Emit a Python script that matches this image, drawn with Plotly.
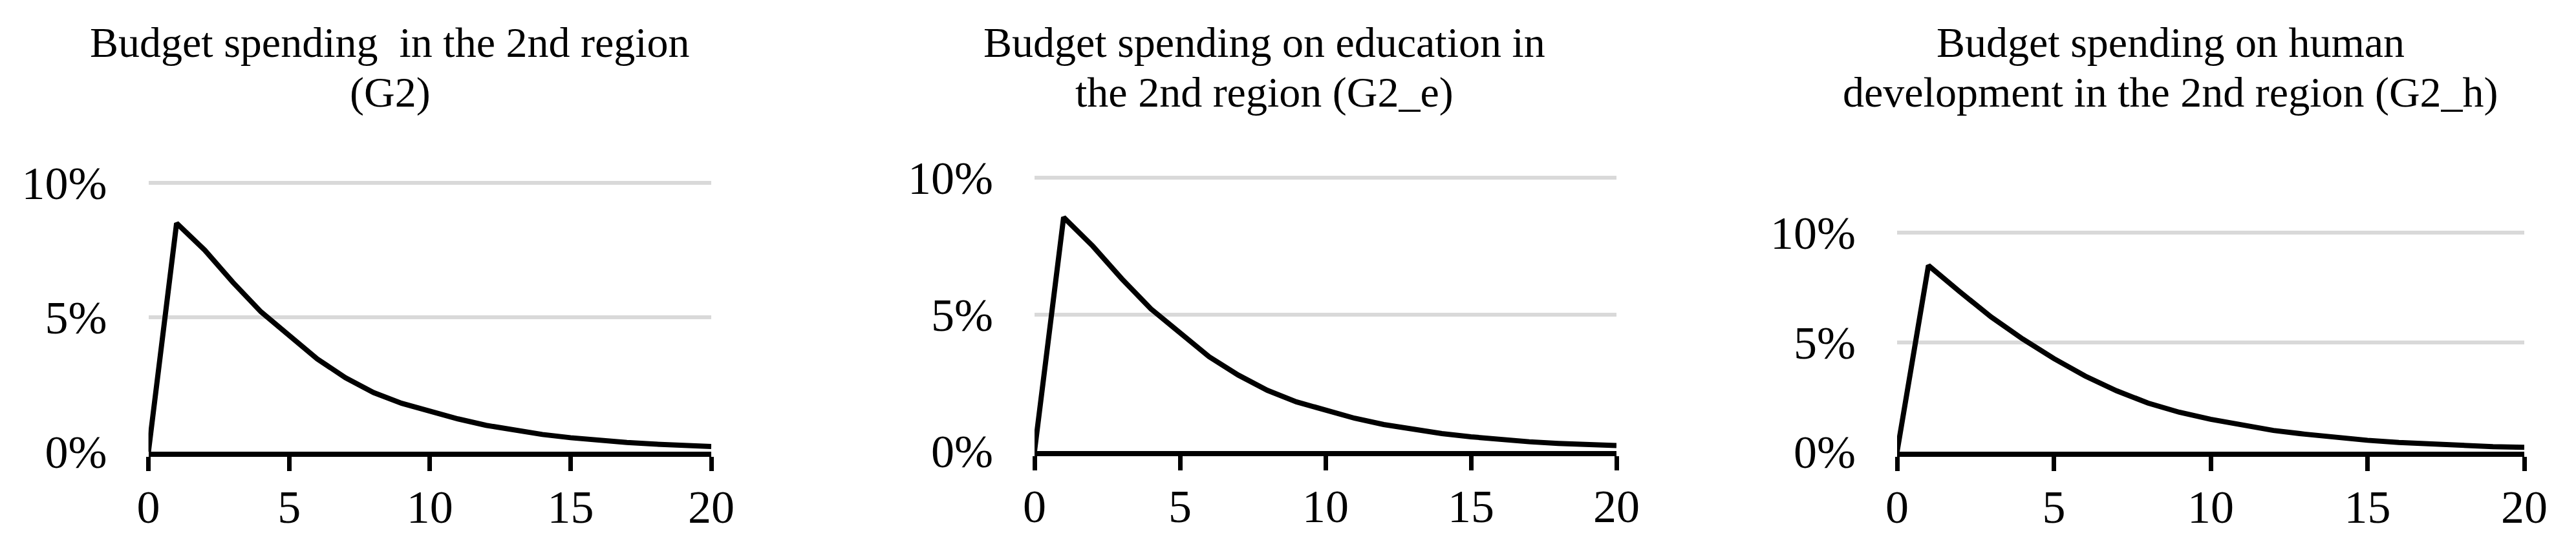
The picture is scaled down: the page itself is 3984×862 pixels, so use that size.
import plotly.graph_objects as go

# Years after the shock, 0..20
years = list(range(21))

# Response of budget spending, in percent
g2 = [0.0, 8.5, 7.5, 6.3, 5.2, 4.3, 3.45, 2.75, 2.2, 1.8, 1.5,
      1.22, 0.98, 0.8, 0.64, 0.52, 0.42, 0.34, 0.28, 0.23, 0.19]
g2_e = [0.0, 8.55, 7.5, 6.3, 5.2, 4.3, 3.45, 2.78, 2.22, 1.8, 1.48,
        1.2, 0.97, 0.8, 0.64, 0.52, 0.42, 0.34, 0.28, 0.23, 0.2]
g2_h = [0.0, 8.5, 7.3, 6.15, 5.15, 4.25, 3.45, 2.78, 2.22, 1.8, 1.48,
        1.2, 0.97, 0.8, 0.64, 0.52, 0.42, 0.34, 0.28, 0.23, 0.2]

titles = [
    ["Budget spending  in the 2nd region", "(G2)"],
    ["Budget spending on education in", "the 2nd region (G2_e)"],
    ["Budget spending on human", "development in the 2nd region (G2_h)"],
]
series = [g2, g2_e, g2_h]

x_ticks = [0, 5, 10, 15, 20]
y_ticks = [0, 5, 10]
y_tick_text = ["0%", "5%", "10%"]

W, H = 3984, 862
FONT = "Times New Roman, Liberation Serif, serif"
OFF = 8  # the page body adds an 8px margin on top/left

# pixel boxes of each plot area: (x at 0, x at 20, y at 0%, y at 10%)
boxes = [
    (229.6, 1100, 699, 283),
    (1600, 2500, 698, 275),
    (2934, 3904, 699, 360),
]
title_cx = [603, 1955, 3357]
title_cy = [65.5, 142.5]
PAD = 4  # headroom so the 10% gridline is not clipped at the edge


def px(v):
    return (v - OFF) / W


def py(v):
    return 1 - (v - OFF) / H


fig = go.Figure()
for i, (vals, box) in enumerate(zip(series, boxes)):
    n = "" if i == 0 else str(i + 1)
    fig.add_trace(
        go.Scatter(
            x=years,
            y=vals,
            mode="lines",
            line=dict(color="black", width=8),
            xaxis="x" + n,
            yaxis="y" + n,
            showlegend=False,
        )
    )
    x0, x1, yb, yt = box
    per_unit = (yb - yt) / 10.0
    fig.update_layout(
        {
            "xaxis" + n: dict(
                domain=[px(x0), px(x1)],
                range=[0, 20],
                tickvals=x_ticks,
                ticks="outside",
                ticklen=22,
                tickwidth=7,
                tickcolor="black",
                showline=True,
                linecolor="black",
                linewidth=8,
                showgrid=False,
                zeroline=False,
                automargin=False,
                anchor="y" + n,
                tickfont=dict(family=FONT, size=72, color="black"),
                ticklabelstandoff=-6,
            ),
            "yaxis" + n: dict(
                domain=[py(yb), py(yt - PAD)],
                range=[0, 10 + PAD / per_unit],
                tickvals=y_ticks,
                ticktext=y_tick_text,
                showline=False,
                showgrid=True,
                gridcolor="#d9d9d9",
                gridwidth=6,
                zeroline=False,
                automargin=False,
                anchor="x" + n,
                tickfont=dict(family=FONT, size=72, color="black"),
                ticklabelstandoff=63,
            ),
        }
    )
    for line_txt, yc in zip(titles[i], title_cy):
        fig.add_annotation(
            text=line_txt,
            x=px(title_cx[i]),
            y=py(yc),
            xref="paper",
            yref="paper",
            xanchor="center",
            yanchor="middle",
            showarrow=False,
            font=dict(family=FONT, size=66, color="black"),
        )

fig.update_layout(
    width=W,
    height=H,
    margin=dict(l=0, r=0, t=0, b=0, pad=0, autoexpand=False),
    paper_bgcolor="white",
    plot_bgcolor="white",
)

fig.write_html("out.html")
